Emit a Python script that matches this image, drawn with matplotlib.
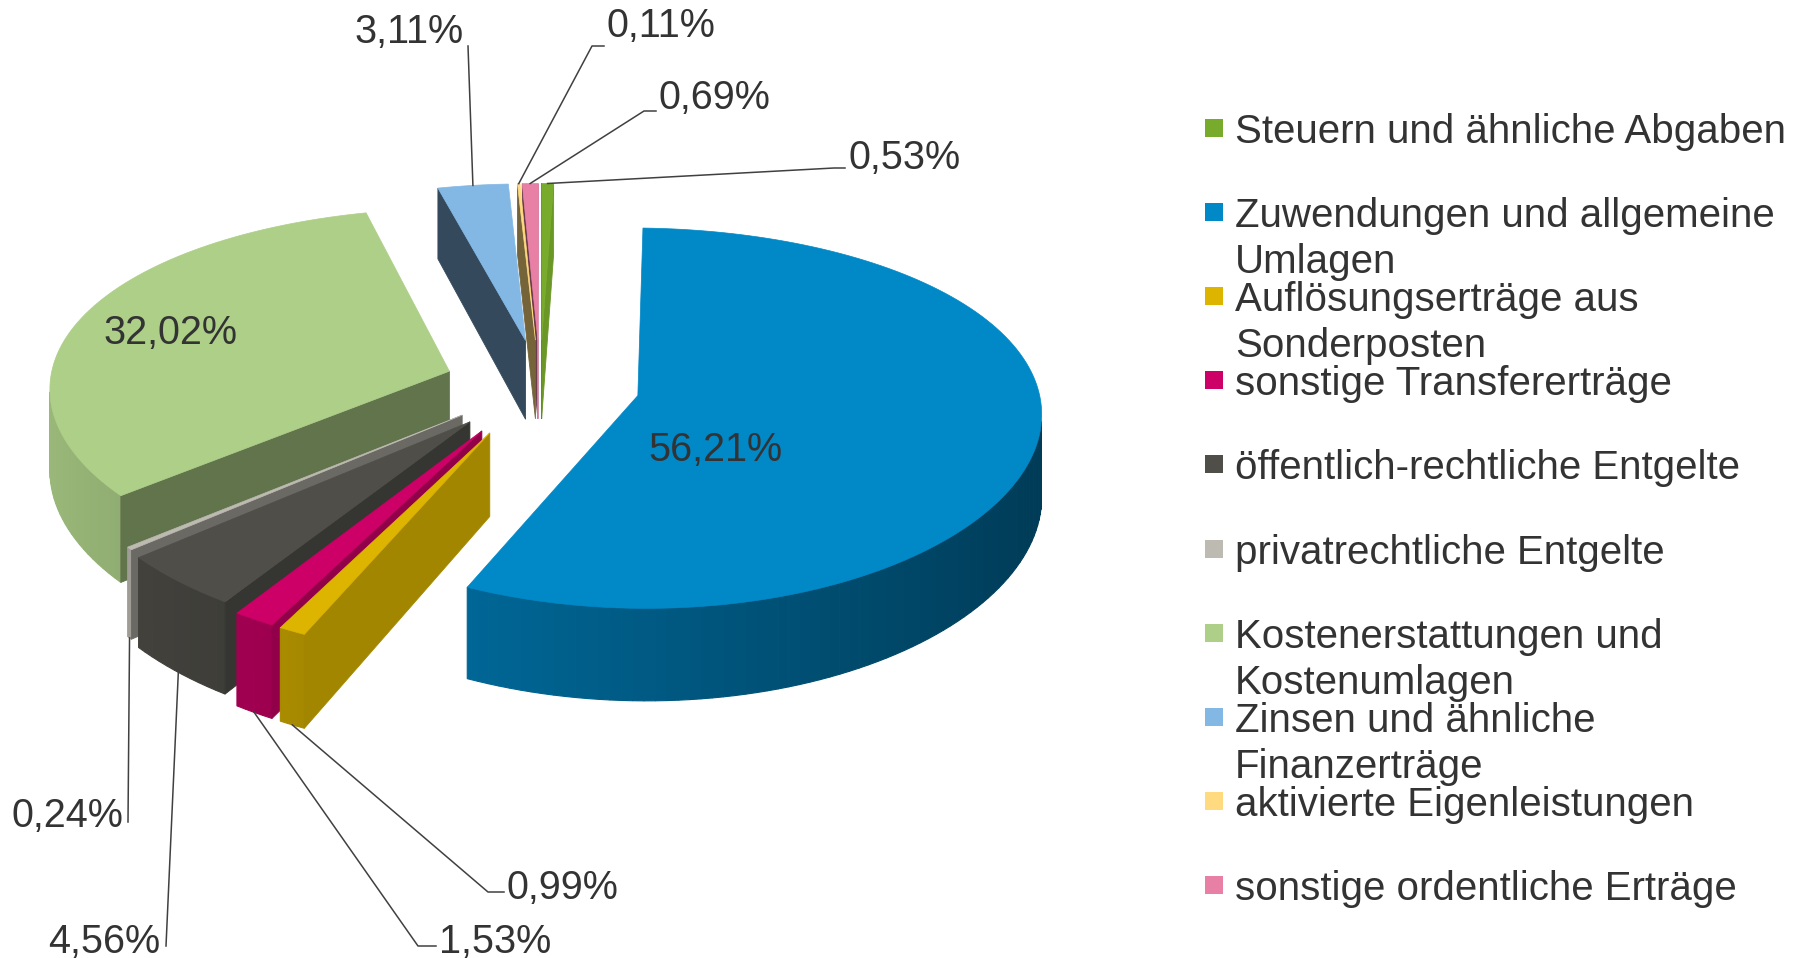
import numpy as np
import matplotlib.pyplot as plt
from matplotlib.patches import Polygon, Rectangle
from matplotlib.colors import to_rgb

plt.rcParams['font.family'] = ['Liberation Sans', 'DejaVu Sans']

categories = ["Steuern und ähnliche Abgaben",
              "Zuwendungen und allgemeine\nUmlagen",
              "Auflösungserträge aus\nSonderposten",
              "sonstige Transfererträge",
              "öffentlich-rechtliche Entgelte",
              "privatrechtliche Entgelte",
              "Kostenerstattungen und\nKostenumlagen",
              "Zinsen und ähnliche\nFinanzerträge",
              "aktivierte Eigenleistungen",
              "sonstige ordentliche Erträge"]
shares = [0.53, 56.21, 0.99, 1.53, 4.56, 0.24, 32.02, 3.11, 0.11, 0.69]
colors = ['#78ab2b', '#0088c7', '#ddb500', '#cc0066', '#4f4e48',
          '#bdbab2', '#adcf88', '#83b8e5', '#ffda7f', '#e880a5']
explode = [0.25, 0.25, 0.28, 0.28, 0.26, 0.25, 0.24, 0.25, 0.25, 0.25]

TXT = '#333333'

# fake 3d projection (pixel coords of the figure)
CX, CY = 540, 385
RX, RY = 400, 185
DEPTH = 81
KX, KY = 0.08, 0.118
EYE = np.array([0.0, -10.0])


def proj(x, y, z=0.0):
    x = np.asarray(x, float)
    y = np.asarray(y, float)
    fx = 1.0 / (1.0 + KX * y)
    fy = 1.0 / (1.0 + KY * y)
    return CX + x * RX * fx, CY - y * RY * fy + z * DEPTH * fy


fig = plt.figure(figsize=(17.96, 9.58), dpi=100)
ax = fig.add_axes([0, 0, 1, 1])
ax.set_xlim(0, 1796)
ax.set_ylim(958, 0)
ax.axis('off')

total = sum(shares)
cum = np.concatenate([[0], np.cumsum(shares)]) / total * 360

geo = []
for i in range(len(shares)):
    t1 = np.radians(90 - cum[i])
    t2 = np.radians(90 - cum[i + 1])
    tm = (t1 + t2) / 2
    ox, oy = explode[i] * np.cos(tm), explode[i] * np.sin(tm)
    geo.append((t1, t2, tm, ox, oy))


def draw_slice(i):
    t1, t2, tm, ox, oy = geo[i]
    base = np.array(to_rgb(colors[i]))
    n = max(2, int(np.degrees(t1 - t2) / 1.5) + 2)
    th = np.linspace(t1, t2, n)
    px, py = ox + np.cos(th), oy + np.sin(th)
    # outer curved side
    for k in range(n - 1):
        tmid = (th[k] + th[k + 1]) / 2
        nrm = np.array([np.cos(tmid), np.sin(tmid)])
        p = np.array([ox, oy]) + nrm
        if nrm @ (EYE - p) <= 0:
            continue
        s = 0.66 - 0.23 * np.cos(tmid)
        xs, ys = proj(px[k:k + 2], py[k:k + 2], 0)
        xb, yb = proj(px[k:k + 2], py[k:k + 2], 1)
        c = np.clip(base * s, 0, 1)
        ax.add_patch(Polygon([(xs[0], ys[0]), (xs[1], ys[1]), (xb[1], yb[1]), (xb[0], yb[0])],
                             closed=True, fc=c, ec=c, lw=0.8))
    # radial cut faces
    for t, sign in ((t1, 1), (t2, -1)):
        nrm = sign * np.array([-np.sin(t), np.cos(t)])
        mid = np.array([ox + 0.5 * np.cos(t), oy + 0.5 * np.sin(t)])
        if nrm @ (EYE - mid) <= 0:
            continue
        s = 0.686 + 0.21 * nrm[0] + 0.337 * nrm[1]
        c = np.clip(base * s, 0, 1)
        qx = [ox, ox + np.cos(t), ox + np.cos(t), ox]
        qy = [oy, oy + np.sin(t), oy + np.sin(t), oy]
        qz = [0, 0, 1, 1]
        pts = [proj(a, b, z) for a, b, z in zip(qx, qy, qz)]
        ax.add_patch(Polygon(pts, closed=True, fc=c, ec=c, lw=0.6))
    # top face
    xs, ys = proj(np.r_[ox, px], np.r_[oy, py], 0)
    ax.add_patch(Polygon(np.c_[xs, ys], closed=True, fc=base, ec=base, lw=0.5))


def depth_key(i):
    t1, t2, tm, ox, oy = geo[i]
    p = np.array([ox + 0.6 * np.cos(tm), oy + 0.6 * np.sin(tm)])
    return -np.hypot(*(p - EYE))


for i in sorted(range(len(shares)), key=depth_key):
    draw_slice(i)

labels = [f"{v:.2f}".replace('.', ',') + '%' for v in shares]

# labels inside the big slices
ax.text(715, 447 + 14, labels[1], color=TXT, fontsize=28.5, ha='center', va='baseline')
ax.text(170, 330 + 14, labels[6], color=TXT, fontsize=28.5, ha='center', va='baseline')

# outside labels with leader lines: (text x, text center y, ha, leader points)
outside = {
    7: (464, 29, 'right', [(468, 46)]),
    8: (607, 23, 'left', [(604, 46), (592, 46)]),
    9: (659, 95, 'left', [(656, 111), (644, 111)]),
    0: (848, 155, 'left', [(845, 168), (834, 168)]),
    2: (507, 885, 'left', [(504, 892), (488, 892)]),
    3: (439, 939, 'left', [(436, 946), (418, 946)]),
    4: (160, 939, 'right', [(166, 946)]),
    5: (123, 813, 'right', [(128, 822)]),
}
for i, (tx, ty, ha, pts) in outside.items():
    t1, t2, tm, ox, oy = geo[i]
    top = np.sin(tm) > 0
    ax_pt = proj(ox + np.cos(tm), oy + np.sin(tm), 0 if top else 1)
    line = pts + [ax_pt]
    ax.plot([p[0] for p in line], [p[1] for p in line], color='#404040', lw=1.1)
    ax.text(tx, ty + 14, labels[i], color=TXT, fontsize=28.5, ha=ha, va='baseline')

# legend
LEG_X, LEG_Y0, LEG_DY, LINE_DY = 1205, 128, 84.1, 46
for i, name in enumerate(categories):
    y = LEG_Y0 + i * LEG_DY
    ax.add_patch(Rectangle((LEG_X, y - 9), 18, 18, fc=colors[i], ec='none'))
    for j, part in enumerate(name.split('\n')):
        ax.text(LEG_X + 30, y + j * LINE_DY + 15, part, color=TXT, fontsize=29,
                ha='left', va='baseline')

fig.savefig('out.png', dpi=100)
